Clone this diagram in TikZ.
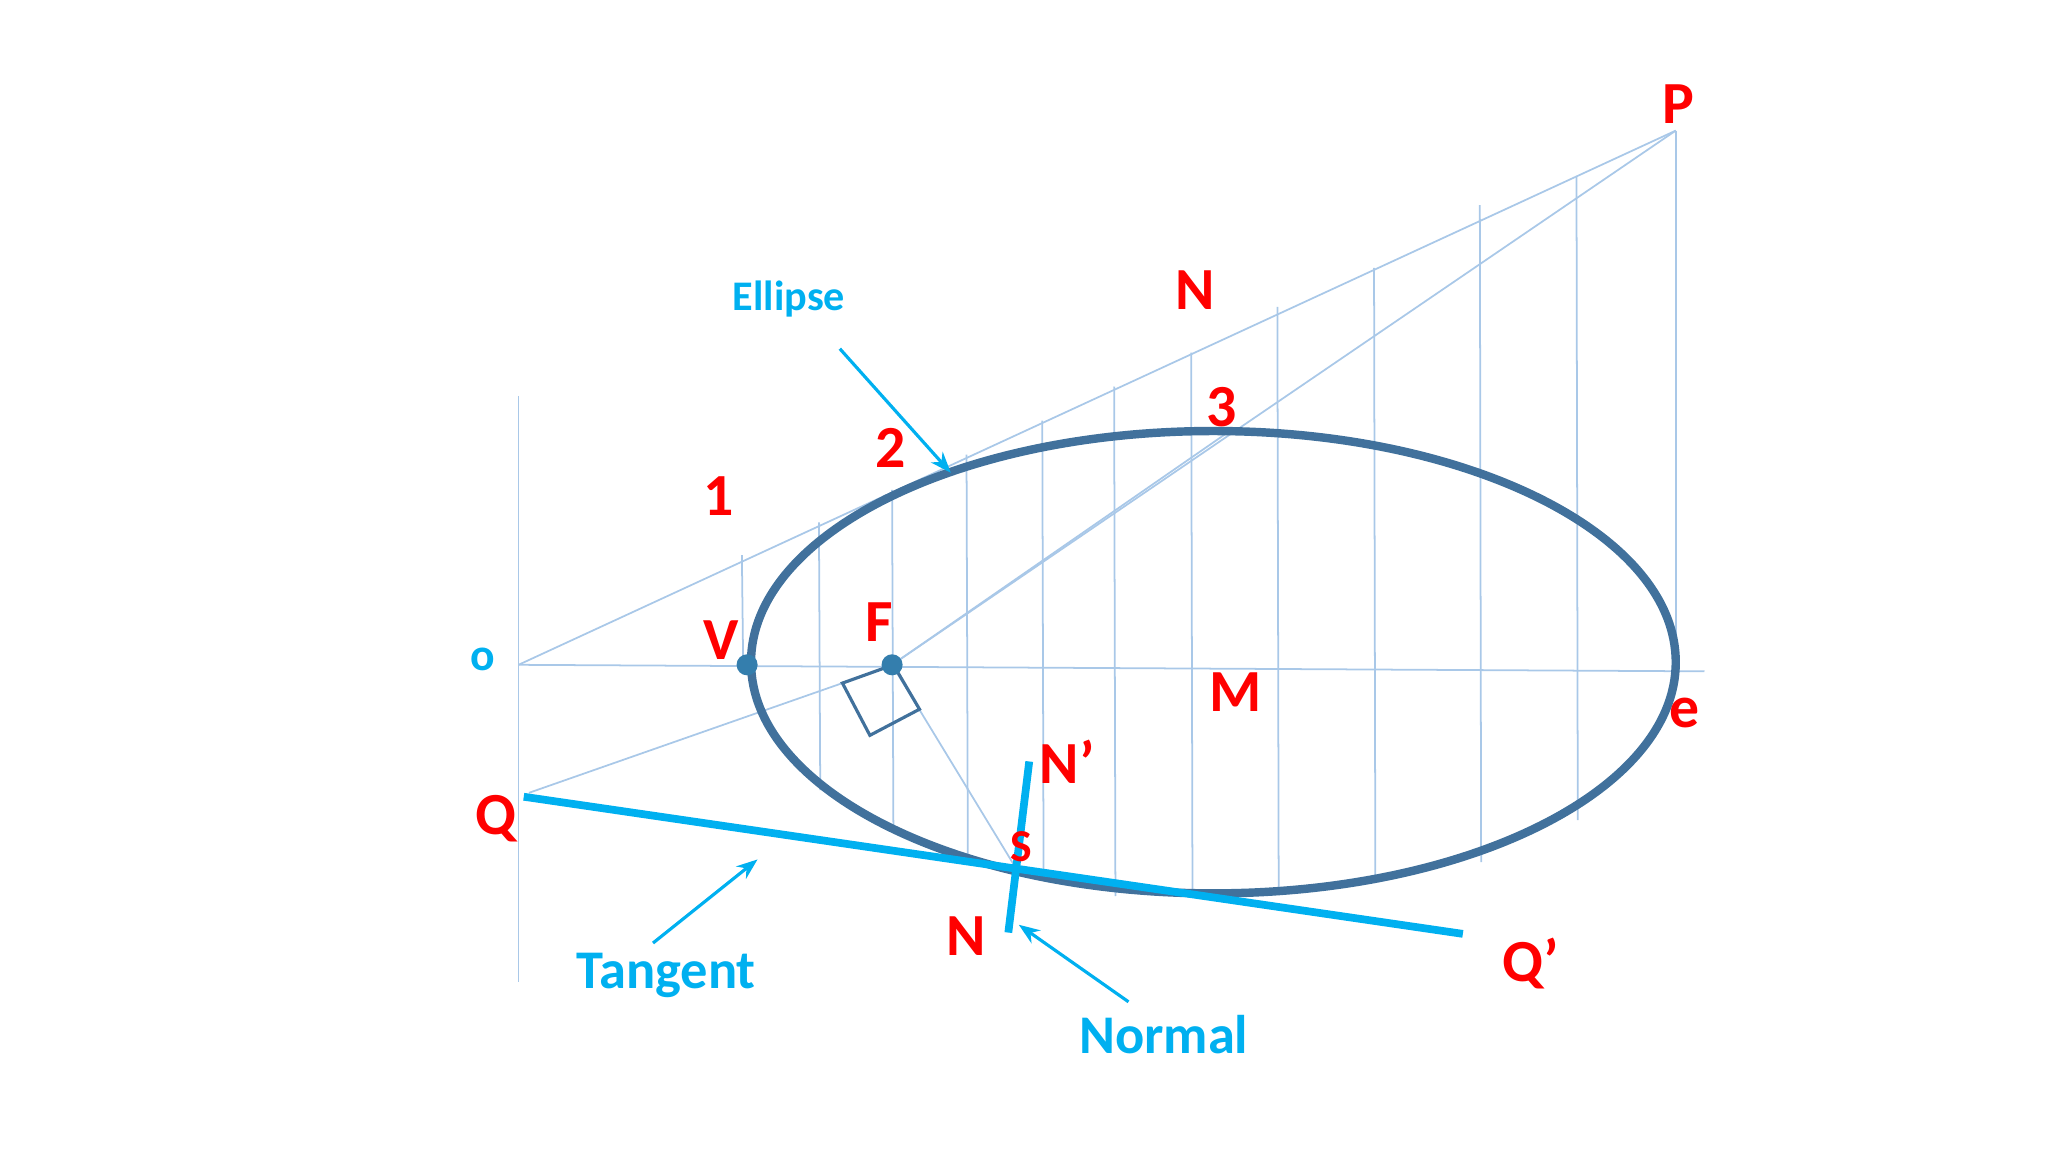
\documentclass[tikz,border=0pt]{standalone}
\usepackage{fontspec}
\setmainfont{Carlito}
\usetikzlibrary{arrows.meta}
\definecolor{cy}{HTML}{00B0F0}
\definecolor{dk}{HTML}{41719C}
\definecolor{lb}{HTML}{A9C8E8}
\definecolor{rd}{HTML}{FF0000}
\tikzset{
  thin line/.style={draw=lb, line width=0.5pt},
  lbl/.style={text=rd, font=\fontsize{17}{20}\selectfont\bfseries, inner sep=0pt},
  clbl/.style={text=cy, font=\fontsize{15.5}{18}\selectfont\bfseries, inner sep=0pt},
  thick cy/.style={draw=cy, line width=2.2pt},
  arr/.style={draw=cy, line width=0.9pt, -{Stealth[length=6pt]}},
  dot/.style={circle, fill=dk!80!cy, inner sep=0pt, minimum size=6pt}
}
\begin{document}
\begin{tikzpicture}[x=0.013061cm,y=-0.013061cm]
\useasboundingbox (0,0) rectangle (1568,882);
\coordinate (o) at (397,509);
\coordinate (P) at (1283,100);
\coordinate (Pf) at (1283,507);
\coordinate (ax) at (1305,514);
\coordinate (Fp) at (683,509);
\coordinate (S) at (778,665);
\coordinate (Qp) at (405,607);
\coordinate (top3) at (943,329);
% construction lines
\draw[thin line] (397,303) -- (397,752);
\draw[thin line] (o) -- (ax);
\draw[thin line] (o) -- (P);
\draw[thin line] (P) -- (Pf);
\draw[thin line] (Fp) -- (P);
\draw[thin line] (Fp) -- (top3);
\draw[thin line] (Fp) -- (S);
\draw[thin line] (Qp) -- (645,523);
\foreach \x/\a/\b in {568/425/510, 627/400/605, 683/375/632, 740/348/655, 798/322/672, 853/296/686, 912/270/686, 978/235/682, 1052/205/672, 1133/157/660, 1207/135/628}
  \draw[thin line] (\x,\a) -- (\x+1,\b);
% ellipse
\draw[dk, line width=2.4pt] (929,507) ellipse [x radius=354, y radius=177];
% right angle square
\draw[dk, line width=0.9pt] (645,523) -- (684,509) -- (704,543) -- (666,563) -- cycle;
% tangent and normal
\coordinate (Ta) at (401,610); \coordinate (Tb) at (1120,715);
\coordinate (Na) at (788,583); \coordinate (Nb) at (772,714);
\draw[thick cy] (Ta) -- (Tb);
\draw[thick cy] (Na) -- (Nb);
\node[dot] (V) at (572,509) {};
\node[dot] (F) at (Fp) {};
% labels
\node[lbl] (lP) at (1285,80) {P};
\node[lbl] (lN1) at (915,222) {N};
\node[lbl] (l3) at (935,312) {3};
\node[lbl] (l2) at (682,343) {2};
\node[lbl] (l1) at (550,380) {1};
\node[lbl] (lV) at (552,490) {V};
\node[lbl] (lF) at (673,476) {F};
\node[lbl] (lM) at (946,530) {M};
\node[lbl] (le) at (1290,546) {e};
\node[lbl] (lNp) at (817,583) {N’};
\node[lbl, font=\fontsize{13}{15}\selectfont\bfseries] (lS) at (782,648) {S};
\node[lbl] (lN2) at (740,717) {N};
\node[lbl] (lQ) at (380,627) {Q};
\node[lbl] (lQp) at (1172,738) {Q’};
\node[clbl, font=\fontsize{13}{15}\selectfont\bfseries] (lo) at (370,505) {o};
\node[clbl, font=\fontsize{12}{14}\selectfont\bfseries] (lE) at (604,229) {Ellipse};
\node[clbl] (lT) at (510,747) {Tangent};
\node[clbl] (lNo) at (891,792) {Normal};
% arrows
\coordinate (ea) at (643,267); \coordinate (eb) at (728,362);
\coordinate (ta) at (500,722); \coordinate (tb) at (580,658);
\coordinate (na) at (864,767); \coordinate (nb) at (780,708);
\draw[arr] (ea) -- (eb);
\draw[arr] (ta) -- (tb);
\draw[arr] (na) -- (nb);
\end{tikzpicture}
\end{document}
